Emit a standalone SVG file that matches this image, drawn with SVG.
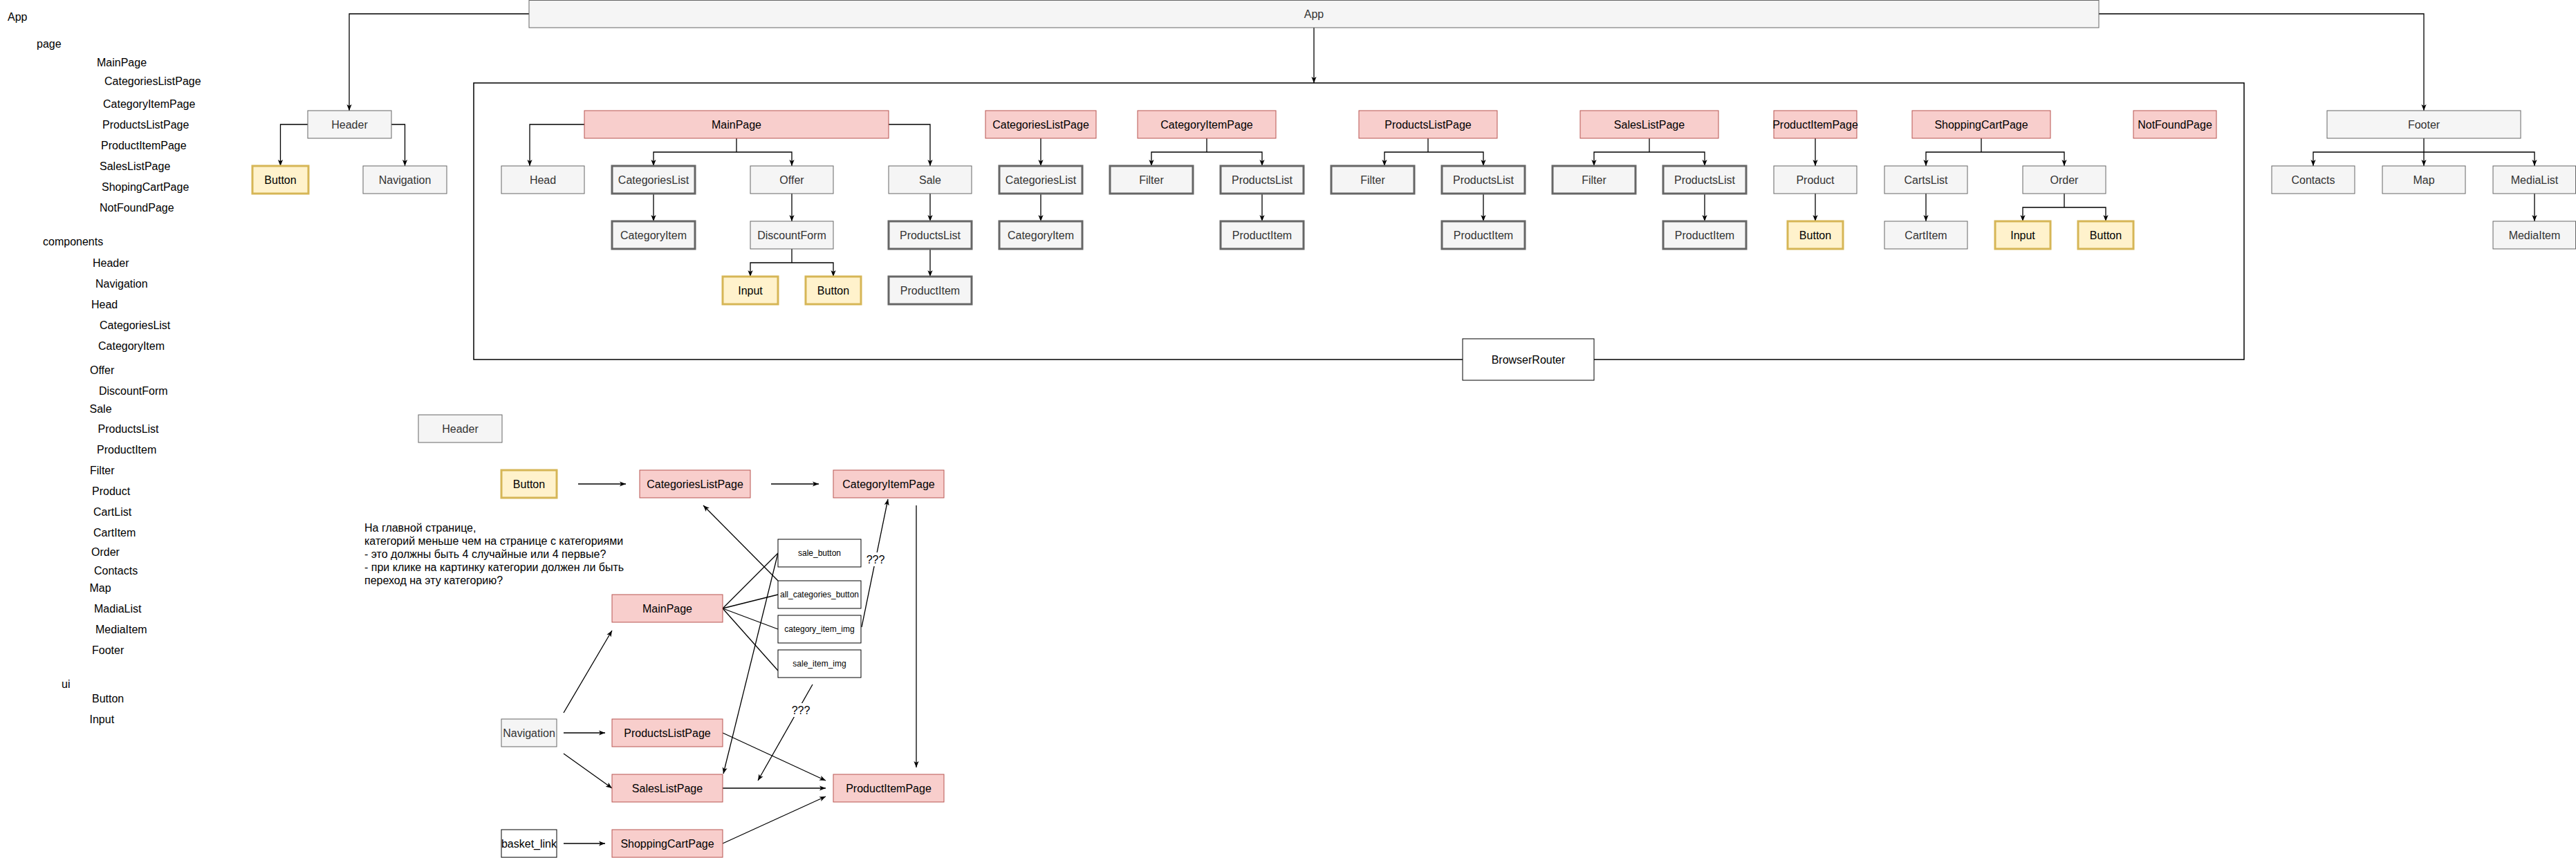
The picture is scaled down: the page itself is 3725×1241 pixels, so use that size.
<svg xmlns="http://www.w3.org/2000/svg" width="3725" height="1241" viewBox="0 0 3725 1241">
<style>
text{font-family:"Liberation Sans",Arial,sans-serif;font-size:16px}
.gray{fill:#f5f5f5;stroke:#666666;stroke-width:1}
.thick{fill:#f5f5f5;stroke:#666666;stroke-width:3}
.red{fill:#f8cecc;stroke:#b85450;stroke-width:1}
.gold{fill:#fff2cc;stroke:#d6b656;stroke-width:3}
.white{fill:#ffffff;stroke:#000000;stroke-width:1}
.tg{fill:#333333;text-anchor:middle}
.tb{fill:#000000;text-anchor:middle}
.ts{fill:#000000;text-anchor:middle;font-size:12px}
.lbl{fill:#000000}
.edge{fill:none;stroke:#000000;stroke-width:1.3}
.arr{marker-end:url(#ah)}
.cont{fill:none;stroke:#000000;stroke-width:1.5}
</style>
<defs>
<marker id="ah" viewBox="0 0 10 10" refX="10" refY="5" markerWidth="9" markerHeight="9" markerUnits="userSpaceOnUse" orient="auto">
<path d="M0,1 L10,5 L0,9 L2.5,5 z" fill="#000000"/>
</marker>
</defs>
<rect x="0" y="0" width="3725" height="1241" fill="#ffffff"/>

<!-- left outline text -->
<g id="outline">
<text class="lbl" x="11" y="30">App</text>
<text class="lbl" x="53" y="69">page</text>
<text class="lbl" x="140" y="96">MainPage</text>
<text class="lbl" x="151" y="123">CategoriesListPage</text>
<text class="lbl" x="149" y="156">CategoryItemPage</text>
<text class="lbl" x="148" y="186">ProductsListPage</text>
<text class="lbl" x="146" y="216">ProductItemPage</text>
<text class="lbl" x="144" y="246">SalesListPage</text>
<text class="lbl" x="147" y="276">ShopingCartPage</text>
<text class="lbl" x="144" y="306">NotFoundPage</text>
<text class="lbl" x="62" y="355">components</text>
<text class="lbl" x="134" y="386">Header</text>
<text class="lbl" x="138" y="416">Navigation</text>
<text class="lbl" x="132" y="446">Head</text>
<text class="lbl" x="144" y="476">CategoriesList</text>
<text class="lbl" x="142" y="506">CategoryItem</text>
<text class="lbl" x="130" y="541">Offer</text>
<text class="lbl" x="143" y="571">DiscountForm</text>
<text class="lbl" x="129.5" y="597">Sale</text>
<text class="lbl" x="141.5" y="626">ProductsList</text>
<text class="lbl" x="140" y="656">ProductItem</text>
<text class="lbl" x="130" y="686">Filter</text>
<text class="lbl" x="133" y="716">Product</text>
<text class="lbl" x="135" y="746">CartList</text>
<text class="lbl" x="135" y="776">CartItem</text>
<text class="lbl" x="132" y="804">Order</text>
<text class="lbl" x="136" y="831">Contacts</text>
<text class="lbl" x="129.5" y="856">Map</text>
<text class="lbl" x="136" y="886">MadiaList</text>
<text class="lbl" x="138" y="916">MediaItem</text>
<text class="lbl" x="133" y="946">Footer</text>
<text class="lbl" x="89" y="995">ui</text>
<text class="lbl" x="133" y="1016">Button</text>
<text class="lbl" x="129.5" y="1046">Input</text>
</g>

<g id="note">
<text class="lbl" x="527" y="768.5">На главной странице,</text>
<text class="lbl" x="527" y="787.5">категорий меньше чем на странице с категориями</text>
<text class="lbl" x="527" y="806.5">- это должны быть 4 случайные или 4 первые?</text>
<text class="lbl" x="527" y="825.5">- при клике на картинку категории должен ли быть</text>
<text class="lbl" x="527" y="844.5">переход на эту категорию?</text>
</g>

<g id="browserrouter">
<rect class="cont" x="685" y="120" width="2560" height="400"/>
<rect class="white" x="2115" y="490" width="190" height="60"/>
<text class="tb" x="2210" y="525.5">BrowserRouter</text>
</g>

<g id="connectors">
<path class="edge arr" d="M765,20 H505 V160"/>
<path class="edge arr" d="M3035,20 H3505 V160"/>
<path class="edge arr" d="M1900,40 V120"/>
<path class="edge arr" d="M445,180 H405.5 V240"/>
<path class="edge arr" d="M566,180 H585.5 V240"/>
<path class="edge arr" d="M845,180 H766 V240"/>
<path class="edge" d="M1065,200 V220"/>
<path class="edge arr" d="M1065,220 H945 V240"/>
<path class="edge arr" d="M1065,220 H1145 V240"/>
<path class="edge arr" d="M945,280 V320"/>
<path class="edge arr" d="M1145,280 V320"/>
<path class="edge" d="M1145,360 V380"/>
<path class="edge arr" d="M1145,380 H1085 V400"/>
<path class="edge arr" d="M1145,380 H1205 V400"/>
<path class="edge arr" d="M1285,180 H1345 V240"/>
<path class="edge arr" d="M1345,280 V320"/>
<path class="edge arr" d="M1345,360 V400"/>
<path class="edge arr" d="M1505,200 V240"/>
<path class="edge arr" d="M1505,280 V320"/>
<path class="edge" d="M1745,200 V220"/>
<path class="edge arr" d="M1745,220 H1665 V240"/>
<path class="edge arr" d="M1745,220 H1825 V240"/>
<path class="edge arr" d="M1825,280 V320"/>
<path class="edge" d="M2065,200 V220"/>
<path class="edge arr" d="M2065,220 H2002 V240"/>
<path class="edge arr" d="M2065,220 H2145 V240"/>
<path class="edge arr" d="M2145,280 V320"/>
<path class="edge" d="M2385,200 V220"/>
<path class="edge arr" d="M2385,220 H2305 V240"/>
<path class="edge arr" d="M2385,220 H2465 V240"/>
<path class="edge arr" d="M2465,280 V320"/>
<path class="edge arr" d="M2625,200 V240"/>
<path class="edge arr" d="M2625,280 V320"/>
<path class="edge" d="M2865,200 V220"/>
<path class="edge arr" d="M2865,220 H2785 V240"/>
<path class="edge arr" d="M2865,220 H2985 V240"/>
<path class="edge arr" d="M2785,280 V320"/>
<path class="edge" d="M2985,280 V300"/>
<path class="edge arr" d="M2985,300 H2925 V320"/>
<path class="edge arr" d="M2985,300 H3045 V320"/>
<path class="edge arr" d="M3505,200 V240"/>
<path class="edge arr" d="M3505,220 H3345 V240"/>
<path class="edge arr" d="M3505,220 H3665 V240"/>
<path class="edge arr" d="M3665,280 V320"/>

<path class="edge arr" d="M836,700 H905"/>
<path class="edge arr" d="M1115,700 H1184"/>
<path class="edge arr" d="M1125,840 L1017,731"/>
<path class="edge arr" d="M1246,907 L1284,722"/>
<path class="edge arr" d="M1325,731 V1110"/>
<path class="edge" d="M1045,880 L1125,800"/>
<path class="edge" d="M1045,880 L1125,860"/>
<path class="edge" d="M1045,880 L1125,910"/>
<path class="edge" d="M1045,880 L1125,970"/>
<path class="edge arr" d="M1125,800 L1046,1119"/>
<path class="edge arr" d="M1175,990 L1096,1129"/>
<path class="edge arr" d="M815,1031 L885,912"/>
<path class="edge arr" d="M815,1060 H875"/>
<path class="edge arr" d="M815,1090 L885,1140"/>
<path class="edge arr" d="M815,1220 H875"/>
<path class="edge arr" d="M1045,1060 L1194,1129"/>
<path class="edge arr" d="M1045,1140 H1194"/>
<path class="edge arr" d="M1045,1220 L1194,1152"/>
<rect x="1253" y="799" width="27" height="20" fill="#ffffff"/>
<text class="tb" x="1266" y="814.5">???</text>
<rect x="1145" y="1017" width="27" height="20" fill="#ffffff"/>
<text class="tb" x="1158" y="1032.5">???</text>
</g>

<g id="app"><rect class="gray" x="765" y="0.5" width="2270" height="39.5"/><text class="tg" x="1900" y="25.5">App</text></g>
<g id="header"><rect class="gray" x="445" y="160" width="121" height="40"/><text class="tg" x="505.5" y="185.5">Header</text></g>
<g id="header-button"><rect class="gold" x="365" y="240" width="81" height="40"/><text class="tb" x="405.5" y="265.5">Button</text></g>
<g id="navigation"><rect class="gray" x="525" y="240" width="121" height="40"/><text class="tg" x="585.5" y="265.5">Navigation</text></g>

<g id="mainpage"><rect class="red" x="845" y="160" width="440" height="40"/><text class="tb" x="1065" y="185.5">MainPage</text></g>
<g id="head"><rect class="gray" x="725" y="240" width="120" height="40"/><text class="tg" x="785" y="265.5">Head</text></g>
<g id="categorieslist-1"><rect class="thick" x="885" y="240" width="120" height="40"/><text class="tg" x="945" y="265.5">CategoriesList</text></g>
<g id="categoryitem-1"><rect class="thick" x="885" y="320" width="120" height="40"/><text class="tg" x="945" y="345.5">CategoryItem</text></g>
<g id="offer"><rect class="gray" x="1085" y="240" width="120" height="40"/><text class="tg" x="1145" y="265.5">Offer</text></g>
<g id="discountform"><rect class="gray" x="1085" y="320" width="120" height="40"/><text class="tg" x="1145" y="345.5">DiscountForm</text></g>
<g id="input-1"><rect class="gold" x="1045" y="400" width="80" height="40"/><text class="tb" x="1085" y="425.5">Input</text></g>
<g id="button-1"><rect class="gold" x="1165" y="400" width="80" height="40"/><text class="tb" x="1205" y="425.5">Button</text></g>
<g id="sale"><rect class="gray" x="1285" y="240" width="120" height="40"/><text class="tg" x="1345" y="265.5">Sale</text></g>
<g id="productslist-1"><rect class="thick" x="1285" y="320" width="120" height="40"/><text class="tg" x="1345" y="345.5">ProductsList</text></g>
<g id="productitem-1"><rect class="thick" x="1285" y="400" width="120" height="40"/><text class="tg" x="1345" y="425.5">ProductItem</text></g>

<g id="categorieslistpage"><rect class="red" x="1425" y="160" width="160" height="40"/><text class="tb" x="1505" y="185.5">CategoriesListPage</text></g>
<g id="categorieslist-2"><rect class="thick" x="1445" y="240" width="120" height="40"/><text class="tg" x="1505" y="265.5">CategoriesList</text></g>
<g id="categoryitem-2"><rect class="thick" x="1445" y="320" width="120" height="40"/><text class="tg" x="1505" y="345.5">CategoryItem</text></g>

<g id="categoryitempage"><rect class="red" x="1645" y="160" width="200" height="40"/><text class="tb" x="1745" y="185.5">CategoryItemPage</text></g>
<g id="filter-1"><rect class="thick" x="1605" y="240" width="120" height="40"/><text class="tg" x="1665" y="265.5">Filter</text></g>
<g id="productslist-2"><rect class="thick" x="1765" y="240" width="120" height="40"/><text class="tg" x="1825" y="265.5">ProductsList</text></g>
<g id="productitem-2"><rect class="thick" x="1765" y="320" width="120" height="40"/><text class="tg" x="1825" y="345.5">ProductItem</text></g>

<g id="productslistpage"><rect class="red" x="1965" y="160" width="200" height="40"/><text class="tb" x="2065" y="185.5">ProductsListPage</text></g>
<g id="filter-2"><rect class="thick" x="1925" y="240" width="120" height="40"/><text class="tg" x="1985" y="265.5">Filter</text></g>
<g id="productslist-3"><rect class="thick" x="2085" y="240" width="120" height="40"/><text class="tg" x="2145" y="265.5">ProductsList</text></g>
<g id="productitem-3"><rect class="thick" x="2085" y="320" width="120" height="40"/><text class="tg" x="2145" y="345.5">ProductItem</text></g>

<g id="saleslistpage"><rect class="red" x="2285" y="160" width="200" height="40"/><text class="tb" x="2385" y="185.5">SalesListPage</text></g>
<g id="filter-3"><rect class="thick" x="2245" y="240" width="120" height="40"/><text class="tg" x="2305" y="265.5">Filter</text></g>
<g id="productslist-4"><rect class="thick" x="2405" y="240" width="120" height="40"/><text class="tg" x="2465" y="265.5">ProductsList</text></g>
<g id="productitem-4"><rect class="thick" x="2405" y="320" width="120" height="40"/><text class="tg" x="2465" y="345.5">ProductItem</text></g>

<g id="productitempage"><rect class="red" x="2565" y="160" width="120" height="40"/><text class="tb" x="2625" y="185.5">ProductItemPage</text></g>
<g id="product"><rect class="gray" x="2565" y="240" width="120" height="40"/><text class="tg" x="2625" y="265.5">Product</text></g>
<g id="button-2"><rect class="gold" x="2585" y="320" width="80" height="40"/><text class="tb" x="2625" y="345.5">Button</text></g>

<g id="shoppingcartpage"><rect class="red" x="2765" y="160" width="200" height="40"/><text class="tb" x="2865" y="185.5">ShoppingCartPage</text></g>
<g id="cartslist"><rect class="gray" x="2725" y="240" width="120" height="40"/><text class="tg" x="2785" y="265.5">CartsList</text></g>
<g id="cartitem"><rect class="gray" x="2725" y="320" width="120" height="40"/><text class="tg" x="2785" y="345.5">CartItem</text></g>
<g id="order"><rect class="gray" x="2925" y="240" width="120" height="40"/><text class="tg" x="2985" y="265.5">Order</text></g>
<g id="input-2"><rect class="gold" x="2885" y="320" width="80" height="40"/><text class="tb" x="2925" y="345.5">Input</text></g>
<g id="button-3"><rect class="gold" x="3005" y="320" width="80" height="40"/><text class="tb" x="3045" y="345.5">Button</text></g>

<g id="notfoundpage"><rect class="red" x="3085" y="160" width="120" height="40"/><text class="tb" x="3145" y="185.5">NotFoundPage</text></g>

<g id="footer"><rect class="gray" x="3365" y="160" width="280" height="40"/><text class="tg" x="3505" y="185.5">Footer</text></g>
<g id="contacts"><rect class="gray" x="3285" y="240" width="120" height="40"/><text class="tg" x="3345" y="265.5">Contacts</text></g>
<g id="map"><rect class="gray" x="3445" y="240" width="120" height="40"/><text class="tg" x="3505" y="265.5">Map</text></g>
<g id="medialist"><rect class="gray" x="3605" y="240" width="119.5" height="40"/><text class="tg" x="3665" y="265.5">MediaList</text></g>
<g id="mediaitem"><rect class="gray" x="3605" y="320" width="119.5" height="40"/><text class="tg" x="3665" y="345.5">MediaItem</text></g>

<!-- lower flow -->
<g id="header-2"><rect class="gray" x="605" y="600" width="121" height="40"/><text class="tg" x="665.5" y="625.5">Header</text></g>
<g id="button-l"><rect class="gold" x="725" y="680" width="80" height="40"/><text class="tb" x="765" y="705.5">Button</text></g>
<g id="categorieslistpage-l"><rect class="red" x="925" y="680" width="160" height="40"/><text class="tb" x="1005" y="705.5">CategoriesListPage</text></g>
<g id="categoryitempage-l"><rect class="red" x="1205" y="680" width="160" height="40"/><text class="tb" x="1285" y="705.5">CategoryItemPage</text></g>
<g id="mainpage-l"><rect class="red" x="885" y="860" width="160" height="40"/><text class="tb" x="965" y="885.5">MainPage</text></g>
<g id="sale_button"><rect class="white" x="1125" y="780" width="120" height="40"/><text class="ts" x="1185" y="804">sale_button</text></g>
<g id="all_categories_button"><rect class="white" x="1125" y="840" width="120" height="40"/><text class="ts" x="1185" y="864">all_categories_button</text></g>
<g id="category_item_img"><rect class="white" x="1125" y="890" width="120" height="40"/><text class="ts" x="1185" y="914">category_item_img</text></g>
<g id="sale_item_img"><rect class="white" x="1125" y="940" width="120" height="40"/><text class="ts" x="1185" y="964">sale_item_img</text></g>
<g id="navigation-l"><rect class="gray" x="725" y="1040" width="80" height="40"/><text class="tg" x="765" y="1065.5">Navigation</text></g>
<g id="productslistpage-l"><rect class="red" x="885" y="1040" width="160" height="40"/><text class="tb" x="965" y="1065.5">ProductsListPage</text></g>
<g id="saleslistpage-l"><rect class="red" x="885" y="1120" width="160" height="40"/><text class="tb" x="965" y="1145.5">SalesListPage</text></g>
<g id="shoppingcartpage-l"><rect class="red" x="885" y="1200" width="160" height="40"/><text class="tb" x="965" y="1225.5">ShoppingCartPage</text></g>
<g id="basket_link"><rect class="white" x="725" y="1200" width="80" height="40"/><text class="tb" x="765" y="1225.5">basket_link</text></g>
<g id="productitempage-l"><rect class="red" x="1205" y="1120" width="160" height="40"/><text class="tb" x="1285" y="1145.5">ProductItemPage</text></g>
</svg>
